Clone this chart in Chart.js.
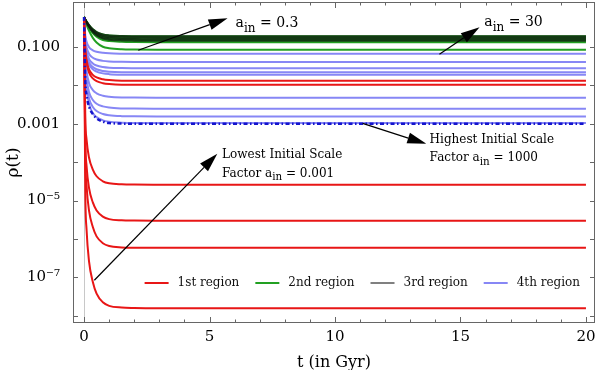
<!DOCTYPE html>
<html>
<head>
<meta charset="utf-8">
<script src="https://cdn.jsdelivr.net/npm/chart.js@4/dist/chart.umd.min.js"></script>
<style>
  html, body { margin: 0; padding: 0; background: #fff; }
</style>
</head>
<body>
<canvas id="rho" width="600" height="370"></canvas>
<script>
// time samples (Gyr) shared by every curve
const times = [0, 0.05, 0.1, 0.2, 0.35, 0.5, 0.75, 1, 1.5, 2, 3, 20];

// 1st region (red)
const region1 = [
  [0.6, 0.0887, 0.0462, 0.0261, 0.0188, 0.0161, 0.0144, 0.0137, 0.0132, 0.0132, 0.0131, 0.0131],
  [0.6, 0.0787, 0.0394, 0.0214, 0.0152, 0.0129, 0.0114, 0.0108, 0.0104, 0.0104, 0.0103, 0.0103],
  [0.6, 1.45e-3, 3.92e-4, 1.30e-4, 6.43e-5, 4.30e-5, 3.18e-5, 2.82e-5, 2.65e-5, 2.61e-5, 2.60e-5, 2.60e-5],
  [0.6, 3.94e-4, 8.07e-5, 2.10e-5, 8.95e-6, 5.50e-6, 3.81e-6, 3.29e-6, 3.06e-6, 3.01e-6, 2.99e-6, 2.99e-6],
  [0.6, 1.49e-4, 2.47e-5, 5.38e-6, 2.05e-6, 1.17e-6, 7.76e-7, 6.58e-7, 6.05e-7, 5.93e-7, 5.89e-7, 5.89e-7],
  [0.6, 1.70e-5, 1.76e-6, 2.58e-7, 7.62e-8, 3.79e-8, 2.25e-8, 1.82e-8, 1.64e-8, 1.60e-8, 1.58e-8, 1.58e-8]
];

// 2nd region (green)
const region2 = [
  [0.6, 0.522, 0.460, 0.370, 0.288, 0.245, 0.211, 0.200, 0.193, 0.191, 0.190, 0.190],
  [0.6, 0.516, 0.451, 0.356, 0.272, 0.228, 0.194, 0.184, 0.177, 0.175, 0.174, 0.174],
  [0.6, 0.512, 0.442, 0.344, 0.256, 0.213, 0.179, 0.169, 0.161, 0.160, 0.159, 0.159],
  [0.6, 0.506, 0.433, 0.330, 0.242, 0.199, 0.165, 0.155, 0.148, 0.146, 0.145, 0.145],
  [0.6, 0.500, 0.424, 0.318, 0.229, 0.185, 0.152, 0.142, 0.136, 0.134, 0.133, 0.133],
  [0.6, 0.474, 0.383, 0.264, 0.172, 0.131, 0.101, 0.0929, 0.0873, 0.0858, 0.0851, 0.0851]
];

// 3rd region (gray) - lies on top of the upper green curves
const region3 = [
  [0.6, 0.522, 0.460, 0.370, 0.288, 0.245, 0.211, 0.200, 0.193, 0.191, 0.190, 0.190],
  [0.6, 0.516, 0.451, 0.356, 0.272, 0.228, 0.194, 0.184, 0.177, 0.175, 0.174, 0.174],
  [0.6, 0.512, 0.442, 0.344, 0.256, 0.213, 0.179, 0.169, 0.161, 0.160, 0.159, 0.159],
  [0.6, 0.506, 0.433, 0.330, 0.242, 0.199, 0.165, 0.155, 0.148, 0.146, 0.145, 0.145]
];

// 4th region (light blue)
const region4 = [
  [0.6, 0.200, 0.137, 0.0986, 0.0818, 0.0750, 0.0702, 0.0681, 0.0668, 0.0665, 0.0664, 0.0664],
  [0.6, 0.156, 0.0986, 0.0659, 0.0524, 0.0470, 0.0434, 0.0419, 0.0409, 0.0406, 0.0406, 0.0406],
  [0.6, 0.129, 0.0766, 0.0483, 0.0372, 0.0329, 0.0300, 0.0288, 0.0281, 0.0279, 0.0278, 0.0278],
  [0.6, 0.115, 0.0652, 0.0396, 0.0299, 0.0262, 0.0237, 0.0227, 0.0220, 0.0219, 0.0218, 0.0218],
  [0.6, 0.106, 0.0589, 0.0351, 0.0261, 0.0228, 0.0205, 0.0196, 0.0190, 0.0189, 0.0188, 0.0188],
  [0.6, 0.0536, 0.0236, 0.0114, 0.00755, 0.00622, 0.00538, 0.00506, 0.00484, 0.00480, 0.00478, 0.00478],
  [0.6, 0.0385, 0.0151, 0.00662, 0.00416, 0.00333, 0.00283, 0.00264, 0.00251, 0.00248, 0.00247, 0.00247],
  [0.6, 0.0305, 0.0111, 0.00454, 0.00274, 0.00215, 0.00180, 0.00167, 0.00158, 0.00156, 0.00155, 0.00155],
  [0.6, 0.0251, 0.00851, 0.00328, 0.00191, 0.00149, 0.00123, 0.00113, 0.00107, 0.00105, 0.00105, 0.00105]
];

// highest initial scale factor a_in = 1000 (dash-dot)
const highest = [0.6, 0.0129, 0.00562, 0.00278, 0.00178, 0.00138, 0.00114, 0.00105, 0.00101, 0.00100, 0.00100, 0.00100];

const regionNames = ['1st region', '2nd region', '3rd region', '4th region'];
const regionColors = ['rgb(232,22,22)', 'rgb(34,160,34)', 'rgb(128,128,128)', 'rgb(135,135,245)'];

const xTickValues = [0,1,2,3,4,5,6,7,8,9,10,11,12,13,14,15,16,17,18,19,20];
const xTickLabels = ['0','','','','','5','','','','','10','','','','','15','','','','','20'];
const yTickValues = [1e-8, 1e-7, 1e-6, 1e-5, 1e-4, 1e-3, 1e-2, 1e-1];
const yTickLabels = ['', '10\u207B\u2077', '', '10\u207B\u2075', '', '0.001', '', '0.100'];

const SERIF = '"DejaVu Serif", "Liberation Serif", serif';

function toPoints(vals) {
  return times.map((t, i) => ({x: t, y: vals[i]}));
}

function lineSet(vals, color, extra) {
  return Object.assign({
    data: toPoints(vals),
    borderColor: color,
    borderWidth: 2,
    pointRadius: 0,
    fill: false,
    cubicInterpolationMode: 'monotone'
  }, extra || {});
}

// first dataset is drawn on top
const datasets = [];
datasets.push(lineSet(highest, 'rgb(20,20,205)', {borderWidth: 2.5, borderDash: [4, 2.5, 1.5, 2.5]}));
region1.forEach(v => datasets.push(lineSet(v, regionColors[0])));
region3.forEach(v => datasets.push(lineSet(v, 'rgba(15,25,15,0.7)')));
region2.forEach(v => datasets.push(lineSet(v, regionColors[1])));
region4.forEach(v => datasets.push(lineSet(v, regionColors[3])));

// arrows and notes, in data coordinates
const arrows = [
  {from: [2.16, 0.082], to: [5.72, 0.56]},
  {from: [14.16, 0.0644], to: [15.76, 0.327]},
  {from: [11.1, 0.00102], to: [13.64, 3.0e-4]},
  {from: [0.41, 8.45e-8], to: [5.31, 1.65e-4]}
];
const notes = [
  {at: [6.04, 0.33], size: 14, parts: [['a'], ['in', 'sub'], [' = 0.3']]},
  {at: [15.95, 0.345], size: 14, parts: [['a'], ['in', 'sub'], [' = 30']]},
  {at: [13.77, 3.1e-4], size: 12, parts: [['Highest Initial Scale']]},
  {at: [13.77, 1.05e-4], size: 12, parts: [['Factor a'], ['in', 'sub'], [' = 1000']]},
  {at: [5.5, 1.25e-4], size: 12, parts: [['Lowest Initial Scale']]},
  {at: [5.5, 4.2e-5], size: 12, parts: [['Factor a'], ['in', 'sub'], [' = 0.001']]}
];

const zeroLine = {
  id: 'zeroLine',
  beforeDatasetsDraw(chart) {
    const {ctx, chartArea: a, scales: {x}} = chart;
    const px = Math.round(x.getPixelForValue(0)) + 0.5;
    ctx.save();
    ctx.strokeStyle = '#c8c8c8';
    ctx.lineWidth = 1;
    ctx.beginPath();
    ctx.moveTo(px, a.top);
    ctx.lineTo(px, a.bottom);
    ctx.stroke();
    ctx.restore();
  }
};

const frameTicks = {
  id: 'frameTicks',
  afterDatasetsDraw(chart) {
    const {ctx, chartArea: a, scales: {x, y}} = chart;
    ctx.save();
    ctx.strokeStyle = '#666';
    ctx.lineWidth = 1;
    ctx.strokeRect(a.left + 0.5, a.top + 0.5, a.width - 1, a.height - 1);
    ctx.beginPath();
    x.ticks.forEach(t => {
      const px = Math.round(x.getPixelForValue(t.value)) + 0.5;
      const len = t.value % 5 === 0 ? 6 : 3.5;
      ctx.moveTo(px, a.bottom); ctx.lineTo(px, a.bottom - len);
      ctx.moveTo(px, a.top); ctx.lineTo(px, a.top + len);
    });
    y.ticks.forEach(t => {
      const py = Math.round(y.getPixelForValue(t.value)) + 0.5;
      ctx.moveTo(a.left, py); ctx.lineTo(a.left + 5, py);
      ctx.moveTo(a.right, py); ctx.lineTo(a.right - 5, py);
    });
    ctx.stroke();
    ctx.restore();
  }
};

function drawParts(ctx, x, y, size, parts) {
  let cx = x;
  parts.forEach(([txt, kind]) => {
    const sub = kind === 'sub';
    const fs = sub ? size * 0.86 : size;
    ctx.font = fs + 'px ' + SERIF;
    ctx.fillText(txt, cx, sub ? y + size * 0.32 : y);
    cx += ctx.measureText(txt).width;
  });
}

const notesPlugin = {
  id: 'notes',
  afterDraw(chart) {
    const {ctx, scales: {x, y}} = chart;
    ctx.save();
    ctx.fillStyle = '#000';
    ctx.strokeStyle = '#000';
    ctx.lineWidth = 1.2;
    arrows.forEach(a => {
      const x0 = x.getPixelForValue(a.from[0]), y0 = y.getPixelForValue(a.from[1]);
      const x1 = x.getPixelForValue(a.to[0]), y1 = y.getPixelForValue(a.to[1]);
      const ang = Math.atan2(y1 - y0, x1 - x0);
      const hl = 19, hw = 5.5;
      const bx = x1 - hl * Math.cos(ang), by = y1 - hl * Math.sin(ang);
      ctx.beginPath();
      ctx.moveTo(x0, y0);
      ctx.lineTo(bx, by);
      ctx.stroke();
      ctx.beginPath();
      ctx.moveTo(x1, y1);
      ctx.lineTo(bx + hw * Math.sin(ang), by - hw * Math.cos(ang));
      ctx.lineTo(bx - hw * Math.sin(ang), by + hw * Math.cos(ang));
      ctx.closePath();
      ctx.fill();
    });
    ctx.textBaseline = 'alphabetic';
    notes.forEach(n => {
      drawParts(ctx, x.getPixelForValue(n.at[0]), y.getPixelForValue(n.at[1]), n.size, n.parts);
    });
    ctx.restore();
  }
};

const legendPlugin = {
  id: 'regionLegend',
  afterDraw(chart) {
    const {ctx, chartArea: a} = chart;
    ctx.save();
    ctx.font = '12px ' + SERIF;
    ctx.textBaseline = 'middle';
    const sw = 24, gapText = 9, gapItem = 16;
    const widths = regionNames.map(n => ctx.measureText(n).width);
    const total = widths.reduce((s, w) => s + sw + gapText + w, 0) + gapItem * (regionNames.length - 1);
    let cx = a.right - 15 - total;
    const cy = a.bottom - 40;
    regionNames.forEach((n, i) => {
      ctx.strokeStyle = regionColors[i];
      ctx.lineWidth = 2;
      ctx.beginPath();
      ctx.moveTo(cx, cy);
      ctx.lineTo(cx + sw, cy);
      ctx.stroke();
      ctx.fillStyle = '#111';
      ctx.fillText(n, cx + sw + gapText, cy);
      cx += sw + gapText + widths[i] + gapItem;
    });
    ctx.restore();
  }
};

new Chart(document.getElementById('rho').getContext('2d'), {
  type: 'line',
  data: {datasets: datasets},
  options: {
    responsive: false,
    animation: false,
    devicePixelRatio: 1,
    layout: {padding: {top: 2, right: 5, left: 0, bottom: 0}},
    plugins: {
      legend: {display: false},
      tooltip: {enabled: false}
    },
    scales: {
      x: {
        type: 'linear',
        min: -0.44,
        max: 20.36,
        afterBuildTicks: s => { s.ticks = xTickValues.map(v => ({value: v})); },
        afterFit: s => { s.height = 47; s.paddingLeft = 0; s.paddingRight = 0; },
        grid: {display: false},
        border: {display: false},
        ticks: {
          autoSkip: false,
          maxRotation: 0,
          padding: -3,
          color: '#000',
          font: {family: SERIF, size: 15},
          callback: (v, i) => xTickLabels[i]
        },
        title: {
          display: true,
          text: 't (in Gyr)',
          color: '#000',
          padding: {top: 0, bottom: -2},
          font: {family: SERIF, size: 16}
        }
      },
      y: {
        type: 'logarithmic',
        min: 6.5e-9,
        max: 1.48,
        afterBuildTicks: s => { s.ticks = yTickValues.map(v => ({value: v})); },
        afterFit: s => { s.width = 73; s.paddingTop = 0; s.paddingBottom = 0; },
        grid: {display: false},
        border: {display: false},
        ticks: {
          autoSkip: false,
          padding: 5,
          color: '#000',
          font: {family: SERIF, size: 15},
          callback: (v, i) => yTickLabels[i]
        },
        title: {
          display: true,
          text: '\u03C1(t)',
          color: '#000',
          padding: {top: 3, bottom: 0},
          font: {family: SERIF, size: 17}
        }
      }
    }
  },
  plugins: [zeroLine, frameTicks, notesPlugin, legendPlugin]
});
</script>
</body>
</html>
